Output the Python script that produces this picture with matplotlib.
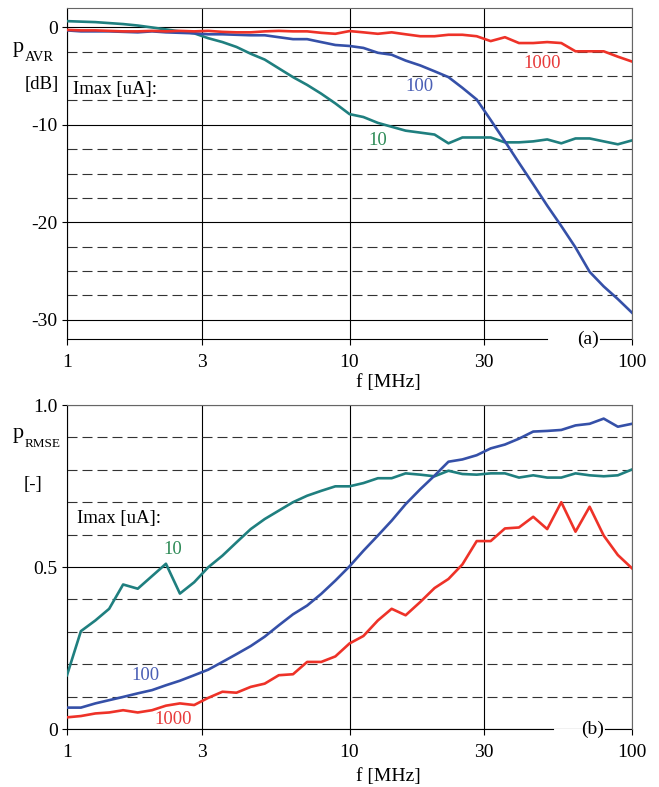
import numpy as np
import matplotlib.pyplot as plt
from matplotlib.ticker import FixedLocator, NullFormatter

plt.rcParams['font.family'] = ['Liberation Serif', 'DejaVu Serif']
plt.rcParams['font.size'] = 14

# frequency points [MHz], 20 per decade
freq = [1.0, 1.12, 1.26, 1.41, 1.58, 1.78, 2.0, 2.24, 2.51, 2.82,
        3.16, 3.55, 3.98, 4.47, 5.01, 5.62, 6.31, 7.08, 7.94, 8.91,
        10.0, 11.2, 12.6, 14.1, 15.8, 17.8, 20.0, 22.4, 25.1, 28.2,
        31.6, 35.5, 39.8, 44.7, 50.1, 56.2, 63.1, 70.8, 79.4, 89.1, 100.0]

# (a) p_AVR [dB]
avr_10 = [0.65, 0.6, 0.55, 0.45, 0.35, 0.2, 0.0, -0.2, -0.4, -0.6,
          -1.1, -1.5, -2.0, -2.7, -3.3, -4.2, -5.1, -5.9, -6.8, -7.8,
          -8.9, -9.2, -9.8, -10.2, -10.6, -10.8, -11.0, -11.9, -11.3, -11.3,
          -11.3, -11.8, -11.8, -11.7, -11.5, -11.9, -11.4, -11.4, -11.7, -12.0, -11.6]
avr_100 = [-0.3, -0.4, -0.4, -0.4, -0.45, -0.5, -0.4, -0.5, -0.55, -0.6,
           -0.7, -0.7, -0.75, -0.8, -0.8, -1.0, -1.2, -1.2, -1.5, -1.8,
           -1.9, -2.1, -2.6, -2.8, -3.4, -3.9, -4.5, -5.1, -6.2, -7.4,
           -9.5, -11.7, -13.9, -16.1, -18.3, -20.4, -22.6, -25.1, -26.6, -27.9, -29.3]
avr_1000 = [-0.25, -0.3, -0.3, -0.35, -0.4, -0.4, -0.35, -0.4, -0.35, -0.4,
            -0.35, -0.45, -0.5, -0.5, -0.4, -0.35, -0.4, -0.4, -0.55, -0.65,
            -0.37, -0.5, -0.65, -0.5, -0.7, -0.9, -0.9, -0.75, -0.75, -0.9,
            -1.4, -1.0, -1.6, -1.6, -1.5, -1.6, -2.45, -2.45, -2.45, -3.0, -3.5]

# (b) p_RMSE [-]
rmse_10 = [0.166, 0.302, 0.335, 0.371, 0.446, 0.433, 0.472, 0.51, 0.418, 0.453,
           0.499, 0.535, 0.576, 0.617, 0.648, 0.674, 0.70, 0.72, 0.735, 0.749,
           0.749, 0.759, 0.774, 0.774, 0.789, 0.785, 0.78, 0.797, 0.787, 0.785,
           0.789, 0.789, 0.776, 0.783, 0.776, 0.776, 0.789, 0.783, 0.78, 0.783, 0.801]
rmse_100 = [0.066, 0.066, 0.079, 0.089, 0.099, 0.11, 0.12, 0.135, 0.149, 0.166,
            0.183, 0.207, 0.231, 0.256, 0.285, 0.32, 0.354, 0.381, 0.417, 0.458,
            0.502, 0.55, 0.597, 0.643, 0.694, 0.74, 0.782, 0.825, 0.832, 0.845,
            0.866, 0.878, 0.896, 0.918, 0.92, 0.923, 0.937, 0.942, 0.958, 0.933, 0.942]
rmse_1000 = [0.036, 0.04, 0.048, 0.051, 0.058, 0.051, 0.058, 0.072, 0.079, 0.074,
             0.096, 0.115, 0.112, 0.13, 0.14, 0.166, 0.169, 0.207, 0.207, 0.224,
             0.264, 0.287, 0.335, 0.371, 0.351, 0.392, 0.435, 0.463, 0.508, 0.58,
             0.58, 0.619, 0.622, 0.655, 0.617, 0.70, 0.609, 0.686, 0.597, 0.537, 0.496]

xticks = [1, 3, 10, 30, 100]
xtick_labels = ['1', '3', '10', '30', '100']

c10, c100, c1000 = '#1f7f7f', '#3550a8', '#ee3228'
t10, t100, t1000 = '#2e8b57', '#4a5fb5', '#e83a3a'

W, H = 659, 787
fig = plt.figure(figsize=(W / 100, H / 100), dpi=100)
ax1 = fig.add_axes([67 / W, 1 - 339 / H, 565 / W, 331 / H])
ax2 = fig.add_axes([67 / W, 1 - 729 / H, 565 / W, 324 / H])


def setup(ax, ylim, major, minor, ylabels, gap, tag):
    ax.set_xscale('log')
    ax.set_xlim(1, 100)
    ax.set_ylim(*ylim)
    ax.xaxis.set_major_locator(FixedLocator(xticks))
    ax.xaxis.set_minor_locator(FixedLocator([]))
    ax.set_xticklabels(xtick_labels)
    ax.yaxis.set_major_locator(FixedLocator(major))
    ax.yaxis.set_minor_locator(FixedLocator(minor))
    ax.yaxis.set_minor_formatter(NullFormatter())
    ax.set_yticklabels(ylabels)
    ax.tick_params(axis='x', which='major', direction='out', length=4.3, width=0.8,
                   pad=6.5, labelsize=14)
    ax.tick_params(axis='y', which='major', direction='out', length=3.6, width=0.8,
                   pad=3, labelsize=14)
    ax.tick_params(axis='y', which='minor', length=0)
    ax.set_axisbelow(True)
    ax.grid(True, which='major', axis='both', color='black', lw=0.8, ls='-')
    ax.grid(True, which='minor', axis='y', color='#333333', lw=0.8,
            ls=(0, (9, 4.5)))
    ax.spines['left'].set_color('black')
    ax.spines['right'].set_color('#666666')
    ax.spines['top'].set_color('#666666')
    for s in ax.spines.values():
        s.set_linewidth(0.8)
    ax.spines['bottom'].set_visible(False)
    ax.axhline(ylim[0], xmin=0, xmax=gap[0], color='black', lw=0.8, clip_on=False)
    ax.axhline(ylim[0], xmin=gap[1], xmax=1, color='black', lw=0.8, clip_on=False)
    ax.text(gap[1] - 0.002, 0.0, tag, transform=ax.transAxes, ha='right',
            va='center', fontsize=14)
    ax.set_xlabel('f [MHz]', fontsize=14)


setup(ax1, (-32, 2), [0, -10, -20, -30], [-2.5, -5, -7.5, -12.5, -15, -17.5,
      -22.5, -25, -27.5], ['0', '-10', '-20', '-30'], (0.85, 0.943), '(a)')
setup(ax2, (0, 1.0), [0, 0.5, 1.0], [0.1, 0.2, 0.3, 0.4, 0.6, 0.7, 0.8, 0.9],
      ['0', '0.5', '1.0'], (0.86, 0.953), '(b)')
ax1.xaxis.set_label_coords(0.568, -0.105)
ax2.xaxis.set_label_coords(0.568, -0.119)

lw = 1.9
ax1.plot(freq, avr_10, color=c10, lw=lw, zorder=3)
ax1.plot(freq, avr_100, color=c100, lw=lw, zorder=3)
ax1.plot(freq, avr_1000, color=c1000, lw=lw, zorder=3)
ax2.plot(freq, rmse_10, color=c10, lw=lw, zorder=3)
ax2.plot(freq, rmse_100, color=c100, lw=lw, zorder=3)
ax2.plot(freq, rmse_1000, color=c1000, lw=lw, zorder=3)

# curve labels
fs = 13.5
ax1.text(1.05, -6.35, 'Imax [uA]:', ha='left', va='center', fontsize=fs)
ax1.text(48.1, -3.7, '1000', color=t1000, ha='center', va='center', fontsize=fs)
ax1.text(17.7, -6.1, '100', color=t100, ha='center', va='center', fontsize=fs)
ax1.text(12.6, -11.6, '10', color=t10, ha='center', va='center', fontsize=fs)
ax2.text(1.085, 0.649, 'Imax [uA]:', ha='left', va='center', fontsize=fs)
ax2.text(2.37, 0.554, '10', color=t10, ha='center', va='center', fontsize=fs)
ax2.text(1.90, 0.166, '100', color=t100, ha='center', va='center', fontsize=fs)
ax2.text(2.37, 0.028, '1000', color=t1000, ha='center', va='center', fontsize=fs)

# y axis labels: "p" with a lowered subscript
fig.text(13 / W, 1 - 52 / H, 'p', ha='left', va='baseline', fontsize=16)
fig.text(25 / W, 1 - 61 / H, 'AVR', ha='left', va='baseline', fontsize=10.5)
fig.text(42 / W, 1 - 85 / H, '[dB]', ha='center', va='center', fontsize=fs)
fig.text(13 / W, 1 - 438 / H, 'p', ha='left', va='baseline', fontsize=16)
fig.text(25 / W, 1 - 447 / H, 'RMSE', ha='left', va='baseline', fontsize=9.5)
fig.text(33 / W, 1 - 485 / H, '[-]', ha='center', va='center', fontsize=fs)

fig.savefig('out.png', dpi=100)
